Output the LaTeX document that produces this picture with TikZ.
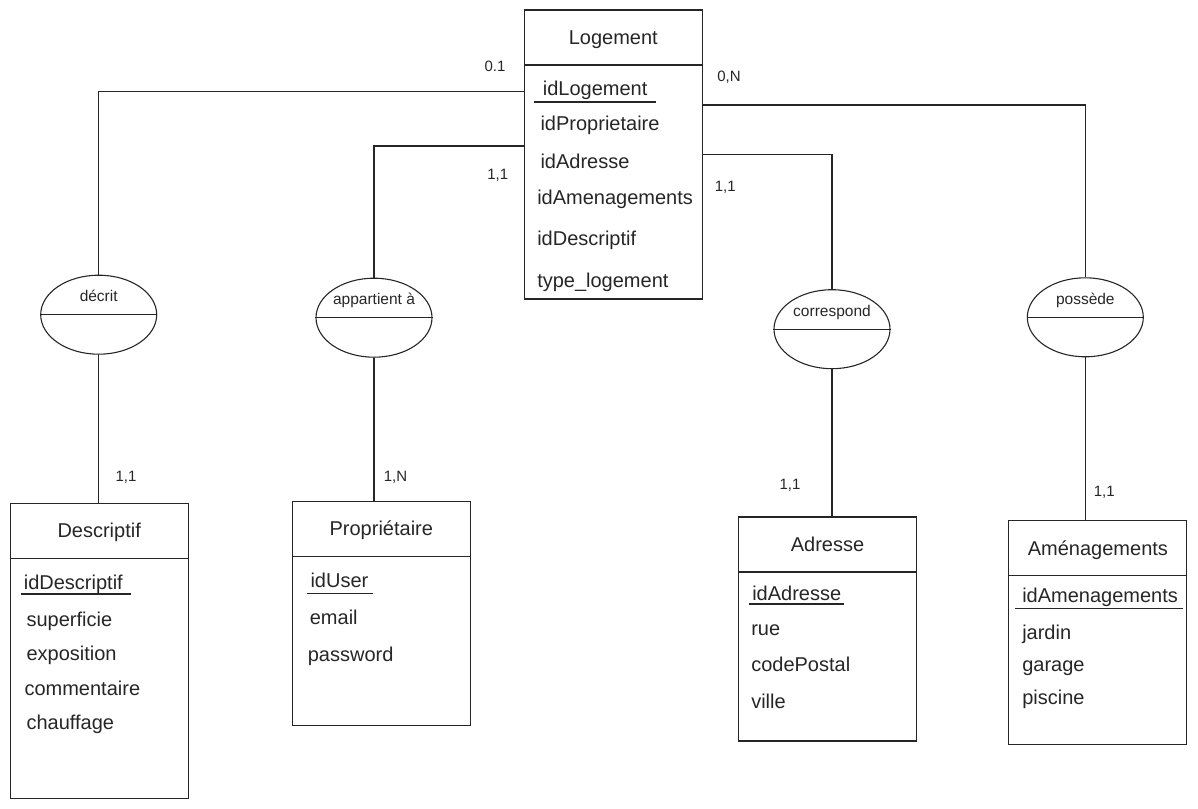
\documentclass[tikz,border=0pt]{standalone}
\usepackage{fontspec}
\setmainfont{Liberation Sans}
\usetikzlibrary{shapes, positioning}
\tikzset{
	every node/.style={
		font=\fontsize{20}{24}\selectfont,
		text=black!85
	},
	entite/.style={
		shape=rectangle,
		minimum width=178pt,
		minimum height=55pt,
		text height=14pt,
		text depth=0pt,
		inner sep=0pt,
		outer sep=0pt,
		draw
	},
	corps/.style={
		shape=rectangle,
		minimum width=178pt,
		inner sep=0pt,
		outer sep=0pt,
		draw
	},
	attribut/.style={
		anchor=base west,
		inner sep=0pt
	},
	card/.style={
		anchor=base west,
		inner sep=0pt,
		font=\fontsize{15}{18}\selectfont
	},
	relation/.style={
		shape=ellipse,
		minimum width=116pt,
		minimum height=79pt,
		inner sep=0pt,
		draw,
		label={[font=\fontsize{15.5}{18}\selectfont, text height=11pt, text depth=3pt, inner sep=0pt, yshift=17pt]center:#1}
	}
}

\begin{document}
\begin{tikzpicture}[x=1pt,y=-1pt,line width=1.1pt,color=black!85]
	\useasboundingbox (0,0) rectangle (1198,808);

	\node[entite] (logement) at (613.3,37.5) {Logement};
	\node[corps, minimum height=234pt, below=0pt of logement] (logement-b) {};
	\node[attribut] (idlogement) at (542.3,95) {idLogement};
	\node[attribut] (idproprietaire) at (540,130.7) {idProprietaire};
	\node[attribut] (idadresse-l) at (540,168.3) {idAdresse};
	\node[attribut] (idamenagements-l) at (536.7,204) {idAmenagements};
	\node[attribut] (iddescriptif-l) at (536.7,245.7) {idDescriptif};
	\node[attribut] (typelogement) at (536.7,287.3) {type\_logement};

	\node[entite] (descriptif) at (99.2,530.7) {Descriptif};
	\node[corps, minimum height=240pt, below=0pt of descriptif] (descriptif-b) {};
	\node[attribut] (iddescriptif) at (23.3,589.3) {idDescriptif};
	\node[attribut] (superficie) at (26,626) {superficie};
	\node[attribut] (exposition) at (26,660) {exposition};
	\node[attribut] (commentaire) at (24,695) {commentaire};
	\node[attribut] (chauffage) at (26,729.3) {chauffage};

	\node[entite] (proprietaire) at (381.3,528.7) {Propriétaire};
	\node[corps, minimum height=169.4pt, below=0pt of proprietaire] (proprietaire-b) {};
	\node[attribut] (iduser) at (310,587) {idUser};
	\node[attribut] (email) at (309.3,624) {email};
	\node[attribut] (password) at (307.3,661) {password};

	\node[entite] (adresse) at (827.5,544.5) {Adresse};
	\node[corps, minimum height=169pt, below=0pt of adresse] (adresse-b) {};
	\node[attribut] (idadresse) at (751.7,600.7) {idAdresse};
	\node[attribut] (rue) at (750.7,635) {rue};
	\node[attribut] (codepostal) at (750.7,671.7) {codePostal};
	\node[attribut] (ville) at (750.7,708.3) {ville};

	\node[entite] (amenagements) at (1097.9,548) {Aménagements};
	\node[corps, minimum height=169pt, below=0pt of amenagements] (amenagements-b) {};
	\node[attribut] (idamenagements) at (1021.7,602.7) {idAmenagements};
	\node[attribut] (jardin) at (1021.7,639.3) {jardin};
	\node[attribut] (garage) at (1021.7,671.7) {garage};
	\node[attribut] (piscine) at (1021.7,704) {piscine};

	\draw ([xshift=-8pt,yshift=-7pt]idlogement.base west) -- ([xshift=8pt,yshift=-7pt]idlogement.base east);
	\draw ([xshift=-2.6pt,yshift=-4.7pt]iddescriptif.base west) -- ([xshift=7.8pt,yshift=-4.7pt]iddescriptif.base east);
	\draw ([xshift=-3pt,yshift=-6.3pt]iduser.base west) -- ([xshift=4pt,yshift=-6.3pt]iduser.base east);
	\draw ([xshift=-2.4pt,yshift=-3.3pt]idadresse.base west) -- ([xshift=2.7pt,yshift=-3.3pt]idadresse.base east);
	\draw ([xshift=-7pt,yshift=-5.6pt]idamenagements.base west) -- ([xshift=4.4pt,yshift=-5.6pt]idamenagements.base east);

	\node[relation=décrit] (decrit) at (98.7,314.7) {};
	\node[relation=appartient à] (appartient) at (374,317.7) {};
	\node[relation=correspond] (correspond) at (832,329.2) {};
	\node[relation=possède] (possede) at (1085.3,317.3) {};
	\draw (decrit.west) -- (decrit.east);
	\draw (appartient.west) -- (appartient.east);
	\draw (correspond.west) -- (correspond.east);
	\draw (possede.west) -- (possede.east);

	\draw ([yshift=-26.5pt]logement-b.north west) -| (decrit.north);
	\draw ([yshift=-81pt]logement-b.north west) -| (appartient.north);
	\draw ([yshift=-40pt]logement-b.north east) -| (possede.north);
	\draw ([yshift=-89.5pt]logement-b.north east) -| (correspond.north);
	\draw (decrit.south) -- (decrit.south |- descriptif.north);
	\draw (appartient.south) -- (appartient.south |- proprietaire.north);
	\draw (correspond.south) -- (correspond.south |- adresse.north);
	\draw (possede.south) -- (possede.south |- amenagements.north);

	\node[card] (c-decrit-l) at (484,71) {0.1};
	\node[card] (c-appartient-l) at (486.7,179) {1,1};
	\node[card] (c-possede-l) at (716.7,81.7) {0,N};
	\node[card] (c-correspond-l) at (714.3,191.7) {1,1};
	\node[card] (c-decrit-d) at (115,481.7) {1,1};
	\node[card] (c-appartient-p) at (383.3,481.7) {1,N};
	\node[card] (c-correspond-a) at (779,489.7) {1,1};
	\node[card] (c-possede-a) at (1093.3,496.7) {1,1};
\end{tikzpicture}
\end{document}
